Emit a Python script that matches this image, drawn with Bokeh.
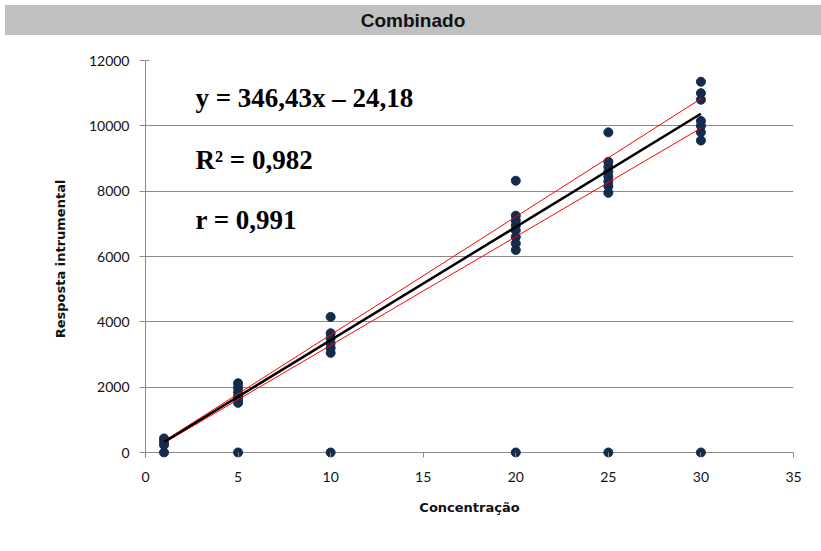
from bokeh.plotting import figure
from bokeh.models import Label, Div, Range1d, FixedTicker
from bokeh.layouts import column
from bokeh.embed import file_html
from bokeh.resources import INLINE

# ---- data ----
conc_levels = [1, 5, 10, 20, 25, 30]
resp_c1 = [430, 330, 230, 0]
resp_c5 = [2120, 1980, 1850, 1720, 1620, 1520, 0]
resp_c10 = [4150, 3650, 3500, 3350, 3200, 3050, 0]
resp_c20 = [8320, 7250, 7100, 6950, 6800, 6600, 6400, 6200, 0]
resp_c25 = [9800, 8900, 8750, 8600, 8450, 8300, 8150, 7950, 0]
resp_c30 = [11350, 11000, 10800, 10150, 10000, 9800, 9550, 0]

slope = 346.43
intercept = -24.18
fit_x = [1, 30]
upper_band = [350, 10830]
lower_band = [290, 9930]

x_ticks = [0, 5, 10, 15, 20, 25, 30, 35]
y_ticks = [0, 2000, 4000, 6000, 8000, 10000, 12000]

eq_text = "y = 346,43x \u2013 24,18"
r2_text = "R\u00b2 = 0,982"
r_text = "r = 0,991"
title_text = "Combinado"
x_label = "Concentra\u00e7\u00e3o"
y_label = "Resposta intrumental"

# ---- build point table ----
xs, ys = [], []
for c, vals in zip(conc_levels, [resp_c1, resp_c5, resp_c10, resp_c20, resp_c25, resp_c30]):
    xs += [c] * len(vals)
    ys += vals
fit_y = [slope * v + intercept for v in fit_x]

header = Div(
    text=title_text, width=816, height=30,
    styles={
        "background-color": "#c0c0c0",
        "text-align": "center",
        "font-family": "'Liberation Sans Narrow', 'Liberation Sans', sans-serif",
        "font-weight": "bold",
        "font-size": "19px",
        "line-height": "32px",
        "color": "#111111",
        "width": "816px",
    },
)

p = figure(
    width=813, height=505,
    x_range=Range1d(0, 35), y_range=Range1d(-153, 12000),
    output_backend="svg", toolbar_location=None,
    min_border_left=145, min_border_right=20,
    min_border_top=20, min_border_bottom=88,
)
p.outline_line_color = None
p.background_fill_color = "white"
p.border_fill_color = "white"

p.xgrid.grid_line_color = None
p.ygrid.grid_line_color = "#8a8a8a"
p.ygrid.grid_line_width = 1
p.ygrid.ticker = FixedTicker(ticks=y_ticks)

p.xaxis.ticker = FixedTicker(ticks=x_ticks)
p.yaxis.ticker = FixedTicker(ticks=y_ticks)

for ax in (p.xaxis[0], p.yaxis[0]):
    ax.major_label_text_font = "Lato"
    ax.major_label_text_font_size = "14px"
    ax.major_label_text_color = "#111111"
    ax.axis_label_text_font = "DejaVu Sans"
    ax.axis_label_text_font_style = "bold"
    ax.axis_label_text_font_size = "13px"
    ax.axis_label_text_color = "#111111"
    ax.minor_tick_line_color = None
    ax.major_tick_line_color = "#8a8a8a"

p.xaxis.axis_label = x_label
p.xaxis.axis_line_color = None
p.xaxis.major_tick_in = 5
p.xaxis.major_tick_out = 0
p.xaxis.major_label_standoff = 14
p.xaxis.axis_label_standoff = 15

p.yaxis.axis_label = y_label
p.yaxis.axis_line_color = "#8a8a8a"
p.yaxis.major_tick_in = 4
p.yaxis.major_tick_out = 6
p.yaxis.major_label_standoff = 10
p.yaxis.axis_label_standoff = 18

p.scatter(xs, ys, marker="circle", size=9, fill_color="#132b4d", line_color="#132b4d")
p.line(fit_x, upper_band, line_color="#ff0000", line_width=1)
p.line(fit_x, lower_band, line_color="#ff0000", line_width=1)
p.line(fit_x, fit_y, line_color="black", line_width=2.5)

for txt, yv in [(eq_text, 10840), (r2_text, 8960), (r_text, 7130)]:
    p.add_layout(Label(
        x=2.7, y=yv, text=txt,
        text_font="Liberation Serif", text_font_style="bold",
        text_font_size="27px", text_color="black",
        text_baseline="alphabetic",
    ))

layout = column(header, p, spacing=0)
open("out.html", "w").write(file_html(layout, INLINE))
